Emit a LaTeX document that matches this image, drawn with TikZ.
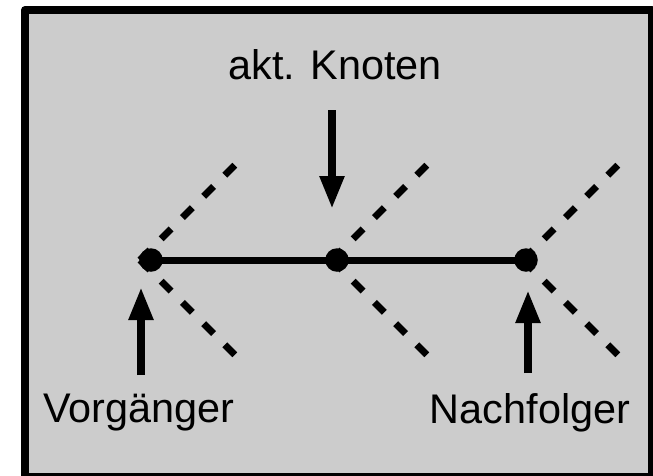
\documentclass[tikz,border=0pt]{standalone}
\usepackage{fontspec}
\setmainfont{Liberation Sans}
\usetikzlibrary{arrows.meta,calc}
\definecolor{panel}{HTML}{CCCCCC}
\tikzset{
  frame/.style={draw=black,fill=panel,line width=8pt,line join=round},
  edge/.style={line width=7pt},
  ghost/.style={line width=7pt,dash pattern=on 14pt off 16pt},
  dot/.style={circle,fill=black,inner sep=0pt,minimum size=23.5pt},
  pointer/.style={line width=8pt,-{Triangle[width=23pt,length=33pt]}},
  caption/.style={font=\fontsize{41.4}{48}\selectfont,inner sep=0pt,anchor=base}
}
\begin{document}
\begin{tikzpicture}[x=1pt,y=-1pt]
  \useasboundingbox (0,0) rectangle (653,475);
  % panel with heavy frame
  \draw[frame] (25,10) rectangle (652,477);

  % branching points of the list elements
  \coordinate (p) at (140,260);
  \coordinate (c) at (332,260);
  \coordinate (s) at (523,260);

  % dashed branches to other elements
  \foreach \o in {p,c,s}{
    \draw[ghost] (\o) -- ++(95,-95);
    \draw[ghost] (\o) -- ++(95,95);
  }

  % list nodes and the chain between them
  \node[dot] (pred) at (151,260) {};
  \node[dot] (cur)  at (337,260) {};
  \node[dot] (succ) at (526,260) {};
  \draw[edge] (pred.center) -- (cur.center) -- (succ.center);

  % labels
  \node[caption] (lcur)  at (335,79)  {akt. Knoten};
  \node[caption] (lpred) at (139,422) {Vorgänger};
  \node[caption] (lsucc) at (530,423) {Nachfolger};

  % pointer arrows
  \coordinate (acur0)  at (332,110);
  \coordinate (acur1)  at (332,209);
  \coordinate (apred0) at (141,375);
  \coordinate (apred1) at (141,287);
  \coordinate (asucc0) at (528,373);
  \coordinate (asucc1) at (528,290);
  \draw[pointer] (acur0) -- (acur1);
  \draw[pointer] (apred0) -- (apred1);
  \draw[pointer] (asucc0) -- (asucc1);
\end{tikzpicture}
\end{document}
